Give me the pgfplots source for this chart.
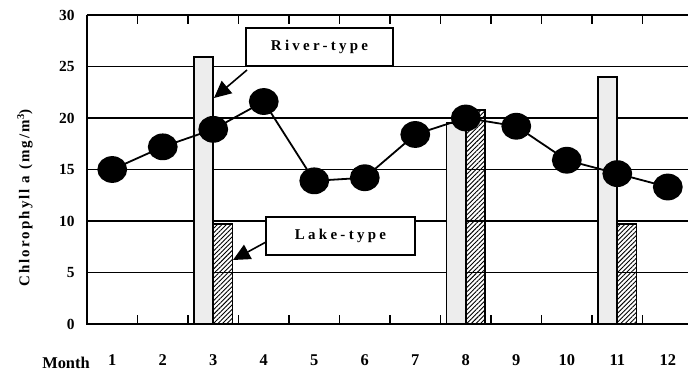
\documentclass[border=0pt]{standalone}
\usepackage{pgfplots}
\pgfplotsset{compat=1.18}
\usetikzlibrary{patterns,patterns.meta,arrows.meta}
\usepackage{fontspec}
\setmainfont{Liberation Serif}
\newfontfamily\spaced[LetterSpace=22]{Liberation Serif}
\newfontfamily\ylab[LetterSpace=14]{Liberation Serif}

\begin{document}
\begin{tikzpicture}[x=1bp,y=1bp]
\path[use as bounding box] (-87,-50) rectangle (601,324);
\begin{axis}[
  scale only axis,
  width=601bp, height=309bp,
  xmin=0.5, xmax=12.4,
  ymin=0, ymax=30,
  clip=false,
  axis line style={draw=none},
  xtick={1,...,12},
  major tick length=0pt,
  extra x ticks={1.5,2.5,...,11.5},
  extra x tick labels={},
  extra x tick style={major tick length=9bp, tick align=inside,
    tick style={line width=1.3bp, black}},
  ytick={0,5,...,30},
  ymajorgrids,
  grid style={black, line width=1.2bp},
  /pgf/number format/assume math mode=true,
  xticklabel style={font=\fontsize{16.5}{16}\selectfont\bfseries, yshift=-27bp},
  yticklabel style={font=\fontsize{15.5}{15}\selectfont\bfseries, xshift=-9bp},
]
% River-type bars
\addplot[ybar, bar width=0.38, bar shift=-0.19, draw=black, line width=1.8bp,
  fill=gray!14]
  coordinates {(3,25.9) (8,19.5) (11,24.0)};
% Lake-type bars
\addplot[ybar, bar width=0.38, bar shift=0.19, draw=black, line width=1.8bp,
  pattern={Lines[angle=45,distance=3.2bp,line width=0.9bp]}]
  coordinates {(3,9.7) (8,20.8) (11,9.7)};
% monthly chlorophyll a
\addplot[black, line width=1.8bp, mark=*, mark size=12.5bp,
  mark options={fill=black, xscale=1.12}]
  coordinates {
    (1,15.0) (2,17.2) (3,18.9) (4,21.6) (5,13.9) (6,14.2)
    (7,18.4) (8,20.0) (9,19.2) (10,15.9) (11,14.6) (12,13.3)
  };
\draw[line width=2.4bp] (axis cs:0.5,30) -- (axis cs:0.5,0) -- (axis cs:12.4,0);
\draw[line width=2.2bp] (axis cs:0.5,30) -- (axis cs:12.4,30);
\end{axis}

% annotation boxes
\draw[line width=1.6bp, fill=white] (159,258) rectangle (306,296);
\node[font=\fontsize{15}{15}\spaced\bfseries] at (232.5,277) {River-type};
\draw[line width=1.6bp, -{Triangle[length=17bp,width=16bp]}] (160,254) -- (127,226);
\draw[line width=1.6bp, fill=white] (179,69) rectangle (328,107);
\node[font=\fontsize{15}{15}\spaced\bfseries] at (253.5,88) {Lake-type};
\draw[line width=1.6bp, -{Triangle[length=17bp,width=16bp]}] (179,82) -- (146,64);

% axis labels
\node[rotate=90, font=\fontsize{15}{15}\ylab\bfseries] at (-62,126)
  {Chlorophyll a (mg/m\textsuperscript{3})};
\node[font=\fontsize{16.5}{16}\selectfont\bfseries] at (-21,-39) {Month};
\end{tikzpicture}
\end{document}
